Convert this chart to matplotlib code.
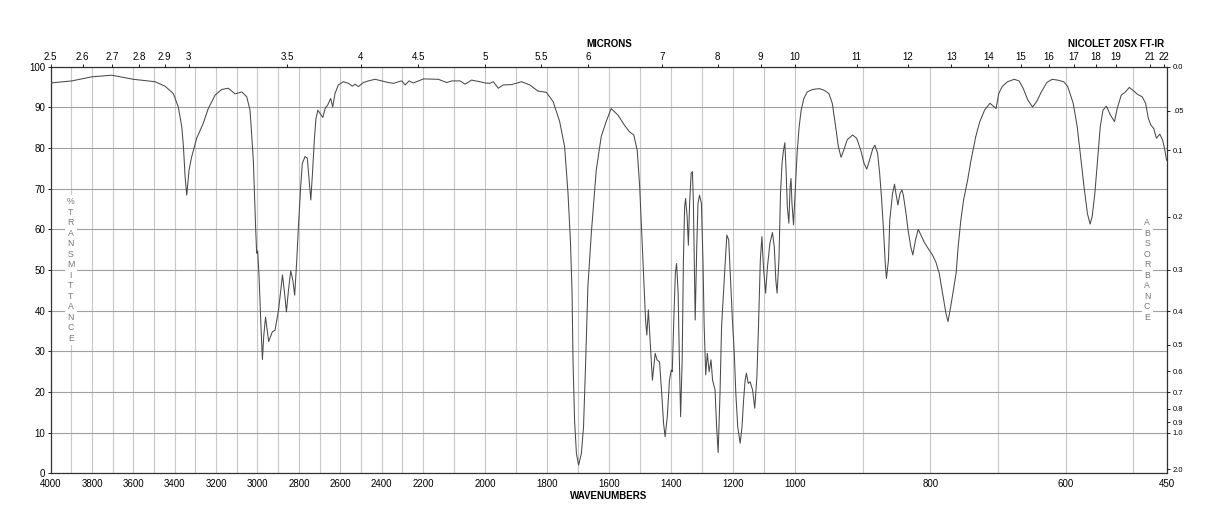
import numpy as np
import matplotlib
matplotlib.use('Agg')
import matplotlib.pyplot as plt

plt.rcParams['font.family'] = ['Liberation Sans', 'DejaVu Sans']

# spectrum: wavenumber (cm-1) and %T
wavenumber = [
    4000, 3898, 3802, 3705, 3600, 3495, 3447, 3407, 3383, 3366, 3358, 3350, 3342, 3331, 3318,
    3294, 3262, 3238, 3205, 3173, 3141, 3108, 3076, 3052, 3036, 3020, 3009, 3004, 2999, 2993,
    2983, 2976, 2970, 2961, 2946, 2928, 2915, 2898, 2879, 2869, 2860, 2850, 2839, 2829, 2820,
    2810, 2802, 2791, 2783, 2770, 2759, 2750, 2742, 2734, 2725, 2717, 2708, 2697, 2684, 2673,
    2660, 2646, 2636, 2625, 2609, 2585, 2560, 2541, 2528, 2512, 2488, 2464, 2431, 2399, 2367,
    2342, 2318, 2302, 2286, 2267, 2246, 2198, 2150, 2123, 2107, 2080, 2064, 2043, 2016, 2000,
    1984, 1973, 1957, 1941, 1914, 1882, 1855, 1829, 1802, 1780, 1759, 1743, 1732, 1724, 1719,
    1716, 1711, 1705, 1698, 1689, 1682, 1675, 1668, 1657, 1641, 1625, 1609, 1593, 1571, 1550,
    1534, 1520, 1509, 1501, 1494, 1488, 1482, 1478, 1473, 1467, 1460, 1451, 1445, 1437, 1430,
    1424, 1419, 1412, 1405, 1399, 1396, 1391, 1386, 1382, 1377, 1373, 1369, 1364, 1360, 1356,
    1353, 1348, 1344, 1340, 1335, 1331, 1328, 1322, 1317, 1313, 1308, 1302, 1297, 1293, 1288,
    1283, 1277, 1271, 1266, 1258, 1253, 1248, 1242, 1237, 1231, 1226, 1220, 1214, 1209, 1202,
    1196, 1191, 1185, 1177, 1171, 1166, 1161, 1157, 1151, 1145, 1137, 1130, 1123, 1118, 1112,
    1107, 1102, 1095, 1089, 1081, 1073, 1067, 1062, 1058, 1052, 1047, 1042, 1038, 1033, 1029,
    1025, 1020, 1016, 1013, 1010, 1005, 1000, 997, 994, 991, 987, 982, 974, 964, 957,
    950, 945, 940, 936, 932, 928, 923, 915, 909, 903, 898, 894, 890, 885, 882,
    878, 875, 872, 869, 867, 865, 862, 860, 856, 853, 851, 848, 845, 842, 840,
    836, 833, 829, 826, 822, 818, 814, 809, 803, 797, 792, 787, 782, 777, 774,
    770, 766, 762, 759, 755, 751, 745, 740, 733, 727, 720, 712, 707, 703, 699,
    694, 686, 676, 669, 663, 656, 649, 643, 636, 628, 620, 612, 603, 597, 589,
    583, 578, 573, 568, 564, 561, 557, 553, 549, 545, 540, 534, 528, 524, 518,
    513, 506, 500, 494, 487, 482, 478, 474, 470, 466, 461, 457, 454, 451,
]
transmittance = [
    96.0, 96.5, 97.5, 97.9, 96.9, 96.3, 95.2, 93.4, 90.1, 85.2, 80.3, 72.9, 68.4, 74.6, 77.9,
    82.4, 86.1, 89.7, 93.0, 94.4, 94.7, 93.3, 93.8, 92.6, 89.3, 77.0, 60.6, 54.1, 54.7, 49.2,
    36.0, 28.0, 33.6, 38.4, 32.4, 34.8, 35.2, 40.2, 48.8, 44.3, 39.7, 45.1, 49.8, 47.5, 43.8,
    52.4, 60.6, 70.5, 76.2, 77.9, 77.5, 72.1, 67.2, 73.8, 82.0, 87.3, 89.3, 88.5, 87.5, 89.7,
    90.6, 92.2, 90.1, 93.4, 95.5, 96.3, 95.9, 95.2, 95.7, 95.1, 96.1, 96.5, 96.9, 96.5, 96.1,
    95.9, 96.3, 96.5, 95.5, 96.5, 96.0, 97.0, 96.9, 96.1, 96.5, 96.5, 95.7, 96.7, 96.3, 96.0,
    95.9, 96.3, 94.7, 95.5, 95.6, 96.3, 95.5, 94.0, 93.7, 91.4, 86.5, 80.3, 68.8, 56.6, 44.3,
    27.9, 13.1, 4.9, 2.0, 4.9, 11.5, 27.9, 45.9, 59.0, 74.6, 82.8, 86.5, 89.7, 88.1, 85.6,
    84.0, 83.2, 79.5, 70.5, 58.2, 47.5, 37.7, 34.0, 40.2, 32.0, 22.9, 29.5, 27.9, 27.4, 19.7,
    12.3, 9.0, 13.9, 22.9, 25.4, 25.0, 37.7, 49.2, 51.6, 44.3, 27.9, 13.9, 27.9, 52.4, 65.6,
    67.6, 63.1, 56.1, 66.4, 73.8, 74.2, 67.2, 37.7, 55.7, 66.4, 68.4, 66.4, 52.4, 36.0, 24.2,
    29.5, 25.0, 27.9, 22.9, 20.5, 11.5, 5.1, 19.7, 36.0, 44.3, 50.8, 58.6, 57.4, 49.2, 37.7,
    29.5, 19.7, 11.5, 7.4, 11.5, 18.0, 22.9, 24.6, 22.1, 22.5, 20.5, 16.0, 23.8, 36.0, 52.4,
    58.2, 50.8, 44.3, 50.8, 56.6, 59.2, 55.7, 47.5, 44.3, 52.4, 68.8, 76.2, 79.1, 81.3, 74.6,
    65.6, 61.5, 70.5, 72.5, 66.4, 61.1, 68.8, 78.7, 85.2, 89.3, 92.2, 93.8, 94.4, 94.6, 94.2,
    93.4, 91.0, 85.2, 80.3, 77.7, 79.5, 82.0, 83.2, 82.4, 79.5, 76.2, 74.8, 77.0, 79.9, 80.7,
    78.7, 73.8, 67.2, 59.0, 52.4, 47.9, 52.4, 62.3, 68.8, 71.1, 68.8, 66.0, 68.8, 69.7, 68.4,
    63.9, 59.8, 55.7, 53.7, 57.4, 60.0, 58.6, 56.8, 55.2, 53.7, 52.0, 49.2, 44.3, 39.3, 37.3,
    41.0, 45.1, 49.2, 55.7, 62.3, 67.2, 72.1, 77.0, 82.8, 86.5, 89.3, 91.0, 90.3, 89.7, 93.4,
    95.1, 96.3, 96.9, 96.5, 94.7, 91.8, 90.1, 91.4, 93.8, 96.1, 96.9, 96.7, 96.3, 95.1, 91.0,
    85.2, 77.9, 70.5, 63.9, 61.3, 63.1, 68.8, 77.0, 85.2, 89.3, 90.3, 88.1, 86.5, 89.7, 93.0,
    93.6, 94.9, 94.1, 93.2, 92.6, 91.0, 87.3, 85.6, 84.8, 82.4, 83.4, 82.0, 79.9, 77.0,
]

wn_ticks = [4000, 3800, 3600, 3400, 3200, 3000, 2800, 2600, 2400, 2200,
            2000, 1800, 1600, 1400, 1200, 1000, 800, 600, 450]
micron_labels = ['2.5', '2.6', '2.7', '2.8', '2.9', '3', '3.5', '4', '4.5', '5', '5.5', '6',
                 '7', '8', '9', '10', '11', '12', '13', '14', '15', '16', '17', '18', '19',
                 '21', '22']
abs_labels = ['0.0', '.05', '0.1', '0.2', '0.3', '0.4', '0.5', '0.6', '0.7', '0.8', '0.9',
              '1.0', '2.0']

# chart paper: 4000-2200, 2200-1000 and 1000-450 each take a third of the width
BREAK_W = [450, 1000, 2200, 4000]
BREAK_U = [0, 1, 2, 3]


def wn_to_u(w):
    return np.interp(np.asarray(w, float), BREAK_W, BREAK_U)


def u_to_wn(u):
    return np.interp(np.asarray(u, float), BREAK_U, BREAK_W)


fig = plt.figure(figsize=(12.18, 5.28), dpi=100)
ax = fig.add_axes([0.04163, 0.1036, 0.9167, 0.7701])
ax.set_xscale('function', functions=(wn_to_u, u_to_wn))
ax.set_xlim(4000, 450)
ax.set_ylim(0, 100)

ax.plot(wavenumber, transmittance, color='#4a4a4a', lw=0.75, zorder=3)

ax.set_xticks(wn_ticks)
ax.set_xticklabels([str(t) for t in wn_ticks])
ax.set_xticks(list(range(500, 4000, 100)), minor=True)
ax.set_yticks(range(0, 101, 10))
ax.tick_params(axis='x', which='both', length=0, pad=4, labelsize=7)
ax.tick_params(axis='y', length=2.5, width=0.6, pad=1.5, labelsize=7, direction='out')
ax.grid(axis='x', which='both', color='#c8c8c8', lw=0.8)
ax.grid(axis='y', which='major', color='#a0a0a0', lw=0.8)
for s in ax.spines.values():
    s.set_color('#333333')
    s.set_linewidth(0.9)

# microns along the top
ax2 = ax.twiny()
ax2.set_xscale('function', functions=(wn_to_u, u_to_wn))
ax2.set_xlim(4000, 450)
ax2.set_xticks([10000.0 / float(m) for m in micron_labels])
ax2.set_xticklabels(micron_labels)
ax2.tick_params(axis='x', length=2.5, width=0.6, pad=1.2, labelsize=7, direction='out')
for s in ax2.spines.values():
    s.set_visible(False)

# absorbance along the right
ax3 = ax.twinx()
ax3.set_ylim(0, 100)
ax3.set_yticks([100 * 10 ** (-float(a)) for a in abs_labels])
ax3.set_yticklabels(abs_labels)
ax3.tick_params(axis='y', length=2.5, width=0.6, pad=1.5, labelsize=5.5, direction='out')
for s in ax3.spines.values():
    s.set_visible(False)

letter_box = dict(facecolor='white', edgecolor='none', pad=1.5)
ax.text(0.0179, 50, '\n'.join('%TRANSMITTANCE'), transform=ax.get_yaxis_transform(),
        ha='center', va='center', fontsize=6.3, color='#777777', linespacing=1.22,
        bbox=letter_box, zorder=4)
ax.text(0.982, 50, '\n'.join('ABSORBANCE'), transform=ax.get_yaxis_transform(),
        ha='center', va='center', fontsize=6.3, color='#777777', linespacing=1.22,
        bbox=letter_box, zorder=4)

fig.text(0.5, 0.9167, 'MICRONS', ha='center', va='center', fontsize=7, fontweight='bold')
fig.text(0.9557, 0.9167, 'NICOLET 20SX FT-IR', ha='right', va='center', fontsize=7,
         fontweight='bold')
fig.text(0.5, 0.0606, 'WAVENUMBERS', ha='center', va='center', fontsize=7, fontweight='bold')

fig.savefig('out.png', dpi=100)
